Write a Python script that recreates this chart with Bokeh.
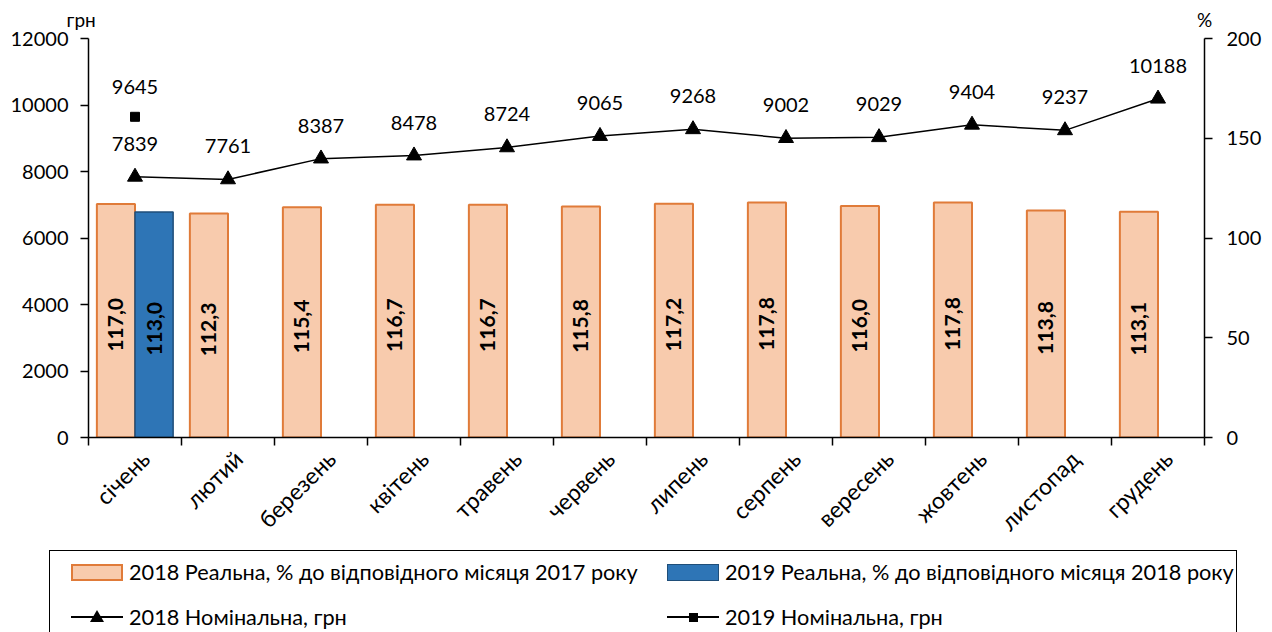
import math
from bokeh.plotting import figure
from bokeh.layouts import column
from bokeh.models import (ColumnDataSource, Range1d, LinearAxis,
                          FixedTicker, LinearScale, Div)
from bokeh.transform import dodge
from bokeh.core.properties import value
from bokeh.embed import file_html
from bokeh.resources import INLINE

# ---------------- data ----------------
months = ["січень", "лютий", "березень", "квітень", "травень", "червень",
          "липень", "серпень", "вересень", "жовтень", "листопад", "грудень"]
real_2018 = [117.0, 112.3, 115.4, 116.7, 116.7, 115.8, 117.2, 117.8, 116.0, 117.8, 113.8, 113.1]
real_2019_months = ["січень"]
real_2019 = [113.0]
nominal_2018 = [7839, 7761, 8387, 8478, 8724, 9065, 9268, 9002, 9029, 9404, 9237, 10188]
nominal_2019_months = ["січень"]
nominal_2019 = [9645]
left_ticks = [0, 2000, 4000, 6000, 8000, 10000, 12000]
right_ticks = [0, 50, 100, 150, 200]
left_unit = "грн"
right_unit = "%"
series_names = ["2018 Реальна, % до відповідного місяця 2017 року",
                "2019 Реальна, % до відповідного місяця 2018 року",
                "2018 Номінальна, грн",
                "2019 Номінальна, грн"]

# ---------------- style ----------------
FONT = "Lato"
ORANGE_FILL = "#F8CBAD"
ORANGE_LINE = "#E07B39"
BLUE_FILL = "#2E75B6"
BLUE_LINE = "#1F4E79"
LABEL_SHIFT = 0.11   # month labels sit a little right of the slot centre
W = 1270
MAIN_H = 548
LEG_H = 84


def fmt(v):
    return f"{v:.1f}".replace(".", ",")


n = len(months)
pos = {m: i + 0.5 for i, m in enumerate(months)}

p = figure(x_range=Range1d(0, n), y_range=Range1d(0, left_ticks[-1]),
           width=W, height=MAIN_H,
           output_backend="svg", toolbar_location=None,
           x_axis_location=None,
           min_border_left=88, min_border_right=66,
           min_border_top=38, min_border_bottom=110)
p.extra_y_ranges = {"pct": Range1d(0, right_ticks[-1])}
p.extra_y_scales = {"pct": LinearScale()}
p.outline_line_color = None
p.xgrid.visible = False
p.ygrid.visible = False
p.background_fill_color = "white"
p.border_fill_color = "white"

# left axis
ya = p.yaxis[0]
ya.ticker = FixedTicker(ticks=left_ticks)
ya.axis_line_color = "black"
ya.axis_line_width = 1.5
ya.major_tick_out = 8
ya.major_tick_in = 0
ya.major_tick_line_width = 1.5
ya.minor_tick_line_color = None
ya.major_label_text_font = FONT
ya.major_label_text_font_size = "20px"
ya.major_label_text_color = "black"
ya.major_label_standoff = 12

# right axis
ra = LinearAxis(y_range_name="pct", ticker=FixedTicker(ticks=right_ticks),
                axis_line_color="black", axis_line_width=1.5,
                major_tick_out=8, major_tick_in=0, major_tick_line_width=1.5,
                minor_tick_line_color=None,
                major_label_text_font=FONT, major_label_text_font_size="20px",
                major_label_text_color="black", major_label_standoff=14)
p.add_layout(ra, "right")

# unit captions above the two value axes
ua = LinearAxis(ticker=FixedTicker(ticks=[0, n]),
                major_label_overrides={0: left_unit + "\u00a0\u00a0\u00a0", n: right_unit},
                axis_line_color=None, major_tick_line_color=None,
                minor_tick_line_color=None, major_tick_out=0, major_tick_in=0,
                major_label_text_font=FONT, major_label_text_font_size="19px",
                major_label_text_color="black", major_label_standoff=8)
p.add_layout(ua, "above")

# bottom axis: month names near slot centres, tick marks at slot edges
centres = [pos[m] + LABEL_SHIFT for m in months]
ca = LinearAxis(ticker=FixedTicker(ticks=centres, minor_ticks=list(range(n + 1))),
                major_label_overrides={c: m for c, m in zip(centres, months)},
                axis_line_color="black", axis_line_width=1.5,
                major_tick_line_color=None, major_tick_out=8, major_tick_in=0,
                minor_tick_line_color="black", minor_tick_line_width=1.5,
                minor_tick_out=8, minor_tick_in=0,
                major_label_orientation=math.pi / 4,
                major_label_text_font=FONT, major_label_text_font_size="23px",
                major_label_text_color="black", major_label_standoff=9)
p.add_layout(ca, "below")

# bars
src18 = ColumnDataSource(dict(x=[pos[m] for m in months], real=real_2018,
                              half=[v / 2 for v in real_2018],
                              lab=[fmt(v) for v in real_2018]))
src19 = ColumnDataSource(dict(x=[pos[m] for m in real_2019_months], real=real_2019,
                              half=[v / 2 for v in real_2019],
                              lab=[fmt(v) for v in real_2019]))

p.vbar(x=dodge("x", -0.205), top="real", width=0.41,
       source=src18, y_range_name="pct",
       fill_color=ORANGE_FILL, line_color=ORANGE_LINE, line_width=2)
p.vbar(x=dodge("x", 0.205), top="real", width=0.41,
       source=src19, y_range_name="pct",
       fill_color=BLUE_FILL, line_color=BLUE_LINE, line_width=1.5)

for src, off in ((src18, -0.205), (src19, 0.205)):
    p.text(x=dodge("x", off), y="half", text="lab", source=src,
           y_range_name="pct", angle=math.pi / 2, text_align="center",
           text_baseline="middle", text_font=value(FONT), text_font_style="bold",
           text_font_size="21px", text_color="black", y_offset=4)

# nominal lines
srcn18 = ColumnDataSource(dict(x=[pos[m] for m in months], nom=nominal_2018,
                               lab=[str(v) for v in nominal_2018]))
srcn19 = ColumnDataSource(dict(x=[pos[m] for m in nominal_2019_months], nom=nominal_2019,
                               lab=[str(v) for v in nominal_2019]))

p.line(x="x", y="nom", source=srcn18, line_color="black", line_width=1.5)
p.scatter(x="x", y="nom", source=srcn18, marker="triangle", size=15,
          fill_color="black", line_color="black")
p.line(x="x", y="nom", source=srcn19, line_color="black", line_width=1.5)
p.scatter(x="x", y="nom", source=srcn19, marker="square", size=9,
          fill_color="black", line_color="black")

p.text(x="x", y="nom", text="lab", source=srcn18, y_offset=-33,
       text_align="center", text_baseline="middle", text_font=value(FONT),
       text_font_size="20px", text_color="black")
p.text(x="x", y="nom", text="lab", source=srcn19, y_offset=-30,
       text_align="center", text_baseline="middle", text_font=value(FONT),
       text_font_size="20px", text_color="black")

# ---------------- legend panel (HTML block under the plot) ----------------
BOX_L, BOX_R, BOX_T = 49, 1237, 2
COLS = [71, 667]          # left edge of swatch in each legend column
SW_W = 52
ROWS = [24, 69]           # vertical centre of each legend row
TXT_GAP = 6


def abs_style(**kw):
    base = "position:absolute;box-sizing:border-box;"
    return base + "".join(f"{k.replace('_', '-')}:{v};" for k, v in kw.items())


parts = [f'<div style="position:relative;width:{W}px;height:{LEG_H}px;overflow:hidden;'
         f'background:white;font-family:{FONT};font-size:21.7px;color:black;">']
parts.append(f'<div style="{abs_style(left=f"{BOX_L}px", top=f"{BOX_T}px", width=f"{BOX_R - BOX_L}px", height="120px", border="1.5px solid black")}"></div>')
# bar swatches
for cx, fill, line, lw in ((COLS[0], ORANGE_FILL, ORANGE_LINE, 2), (COLS[1], BLUE_FILL, BLUE_LINE, 1.5)):
    parts.append(f'<div style="{abs_style(left=f"{cx}px", top=f"{ROWS[0] - 8.5}px", width=f"{SW_W}px", height="17px", background=fill, border=f"{lw}px solid {line}")}"></div>')
# line swatches
for cx in COLS:
    parts.append(f'<div style="{abs_style(left=f"{cx}px", top=f"{ROWS[1] - 0.75}px", width=f"{SW_W}px", height="1.5px", background="black")}"></div>')
mid0 = COLS[0] + SW_W / 2
parts.append(f'<div style="{abs_style(left=f"{mid0 - 7}px", top=f"{ROWS[1] - 7}px", width="0", height="0", border_left="7px solid transparent", border_right="7px solid transparent", border_bottom="12px solid black")}"></div>')
mid1 = COLS[1] + SW_W / 2
parts.append(f'<div style="{abs_style(left=f"{mid1 - 4.5}px", top=f"{ROWS[1] - 4.5}px", width="9px", height="9px", background="black")}"></div>')
# texts
for (cx, cy), name in zip(((COLS[0], ROWS[0]), (COLS[1], ROWS[0]), (COLS[0], ROWS[1]), (COLS[1], ROWS[1])),
                          series_names):
    parts.append(f'<span style="{abs_style(left=f"{cx + SW_W + TXT_GAP}px", top=f"{cy}px", transform="translateY(-50%)", white_space="nowrap", line_height="1.2")}">{name}</span>')
parts.append('</div>')

legend_div = Div(text="".join(parts), width=W, height=LEG_H, margin=0)

layout = column(p, legend_div, spacing=0)
open("out.html", "w").write(file_html(layout, INLINE))
